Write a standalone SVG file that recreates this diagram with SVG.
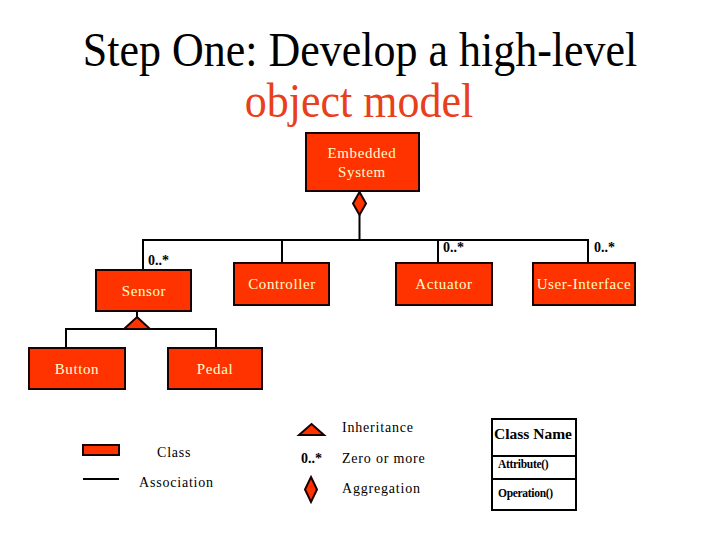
<svg xmlns="http://www.w3.org/2000/svg" width="720" height="540" viewBox="0 0 720 540">
<defs>
<style>
.box{fill:#ff3300;stroke:#1a0000;stroke-width:2}
.bt{font-size:15px;letter-spacing:0.6px;fill:#ffffcc;text-anchor:middle}
.ln{fill:none;stroke:#000;stroke-width:2}
.sym{fill:#ff3300;stroke:#1a0000;stroke-width:2;stroke-linejoin:miter}
.mult{font-size:14px;font-weight:bold;fill:#000}
.lg{font-size:14px;letter-spacing:0.8px;fill:#000}
.title{font-size:44px;text-anchor:middle}
</style>
</defs>
<rect width="720" height="540" fill="#fff"/>
<g id="title">
<text class="title" font-family="Liberation Serif, serif" transform="translate(360,66) scale(1,1.12)" fill="#000">Step One: Develop a high-level</text>
<text class="title" font-family="Liberation Serif, serif" transform="translate(359,117) scale(1,1.12)" fill="#e8401a">object model</text>
</g>
<g id="connectors">
<line class="ln" x1="359.5" y1="215" x2="359.5" y2="240"/>
<polyline class="ln" points="143,270 143,240 588,240 588,263"/>
<line class="ln" x1="282" y1="240" x2="282" y2="263"/>
<line class="ln" x1="438" y1="240" x2="438" y2="263"/>
<line class="ln" x1="137" y1="311" x2="137" y2="318"/>
<polyline class="ln" points="66,348 66,329 216,329 216,348"/>
<polygon class="sym" points="359.5,192 366,203.5 359.5,215 353,203.5"/>
<polygon class="sym" points="137,317 150,329 124,329"/>
<text class="mult" font-family="Liberation Serif, serif" x="148" y="265">0..*</text>
<text class="mult" font-family="Liberation Serif, serif" x="443" y="252">0..*</text>
<text class="mult" font-family="Liberation Serif, serif" x="594" y="252">0..*</text>
</g>
<g id="embedded-system">
<rect class="box" x="306" y="133" width="113" height="58"/>
<text class="bt" font-family="Liberation Serif, serif" x="362" y="158">Embedded</text>
<text class="bt" font-family="Liberation Serif, serif" x="362" y="177">System</text>
</g>
<g id="sensor">
<rect class="box" x="96" y="270" width="95" height="41"/>
<text class="bt" font-family="Liberation Serif, serif" x="144" y="296">Sensor</text>
</g>
<g id="controller">
<rect class="box" x="234" y="263" width="95" height="42"/>
<text class="bt" font-family="Liberation Serif, serif" x="282" y="289">Controller</text>
</g>
<g id="actuator">
<rect class="box" x="396" y="263" width="96" height="42"/>
<text class="bt" font-family="Liberation Serif, serif" x="444" y="289">Actuator</text>
</g>
<g id="user-interface">
<rect class="box" x="533" y="263" width="102" height="42"/>
<text class="bt" font-family="Liberation Serif, serif" x="584" y="289">User-Interface</text>
</g>
<g id="button">
<rect class="box" x="29" y="348" width="96" height="41"/>
<text class="bt" font-family="Liberation Serif, serif" x="77" y="374">Button</text>
</g>
<g id="pedal">
<rect class="box" x="168" y="348" width="94" height="41"/>
<text class="bt" font-family="Liberation Serif, serif" x="215" y="374">Pedal</text>
</g>
<g id="legend">
<rect class="box" x="83" y="445" width="36" height="10"/>
<text class="lg" font-family="Liberation Serif, serif" x="157" y="457">Class</text>
<line class="ln" x1="83" y1="479" x2="119" y2="479"/>
<text class="lg" font-family="Liberation Serif, serif" x="139" y="487">Association</text>
<polygon class="sym" points="311.5,424 324,435 299,435"/>
<text class="lg" font-family="Liberation Serif, serif" x="342" y="432">Inheritance</text>
<text class="mult" font-family="Liberation Serif, serif" x="301" y="463">0..*</text>
<text class="lg" font-family="Liberation Serif, serif" x="342" y="463">Zero or more</text>
<polygon class="sym" points="311,477 317,489.5 311,502 305,489.5"/>
<text class="lg" font-family="Liberation Serif, serif" x="342" y="493">Aggregation</text>
<g id="class-name">
<rect x="492" y="419" width="84" height="91" fill="#fff" stroke="#000" stroke-width="2"/>
<line class="ln" x1="492" y1="456" x2="576" y2="456"/>
<line class="ln" x1="492" y1="479" x2="576" y2="479"/>
<text x="494" y="439" font-family="Liberation Serif, serif" font-size="15.5" font-weight="bold">Class Name</text>
<text x="498" y="468" font-family="Liberation Serif, serif" font-size="11.5" font-weight="bold" letter-spacing="-0.3">Attribute()</text>
<text x="498" y="497" font-family="Liberation Serif, serif" font-size="11.5" font-weight="bold" letter-spacing="-0.3">Operation()</text>
</g>
</g>
</svg>
